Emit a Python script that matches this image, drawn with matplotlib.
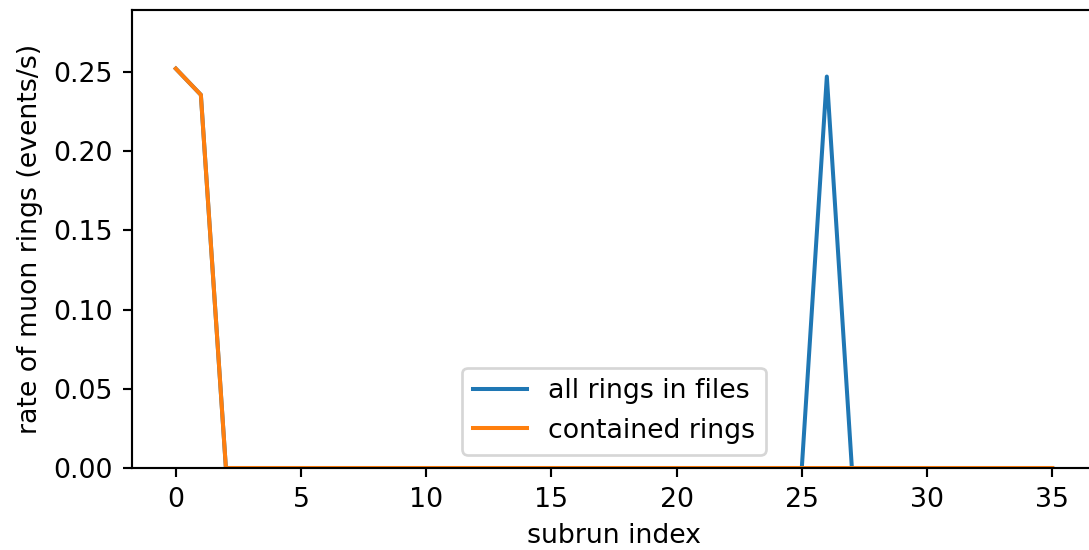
import numpy as np
import matplotlib
matplotlib.use("Agg")
import matplotlib.pyplot as plt

# subrun index 0..35
subrun = list(range(36))

# rate of muon rings per subrun (events/s)
all_rings = [0.2520, 0.2355, 0.0, 0.0, 0.0, 0.0, 0.0, 0.0, 0.0, 0.0,
             0.0, 0.0, 0.0, 0.0, 0.0, 0.0, 0.0, 0.0, 0.0, 0.0,
             0.0, 0.0, 0.0, 0.0, 0.0, 0.0, 0.2470, 0.0, 0.0, 0.0,
             0.0, 0.0, 0.0, 0.0, 0.0, 0.0]
contained_rings = [0.2520, 0.2355, 0.0, 0.0, 0.0, 0.0, 0.0, 0.0, 0.0, 0.0,
                   0.0, 0.0, 0.0, 0.0, 0.0, 0.0, 0.0, 0.0, 0.0, 0.0,
                   0.0, 0.0, 0.0, 0.0, 0.0, 0.0, 0.0, 0.0, 0.0, 0.0,
                   0.0, 0.0, 0.0, 0.0, 0.0, 0.0]

dpi = 193
fig = plt.figure(figsize=(1089 / dpi, 550 / dpi), dpi=dpi)
ax = fig.add_axes([132 / 1089, 82 / 550, (1096 - 132) / 1089, (468 - 10) / 550])

ax.plot(subrun, all_rings, label="all rings in files")
ax.plot(subrun, contained_rings, label="contained rings")

ax.set_ylim(0, 0.289)
ax.set_xlabel("subrun index")
ax.set_ylabel("rate of muon rings (events/s)")
ax.legend(loc="lower center")

fig.savefig("out.png", dpi=dpi)
